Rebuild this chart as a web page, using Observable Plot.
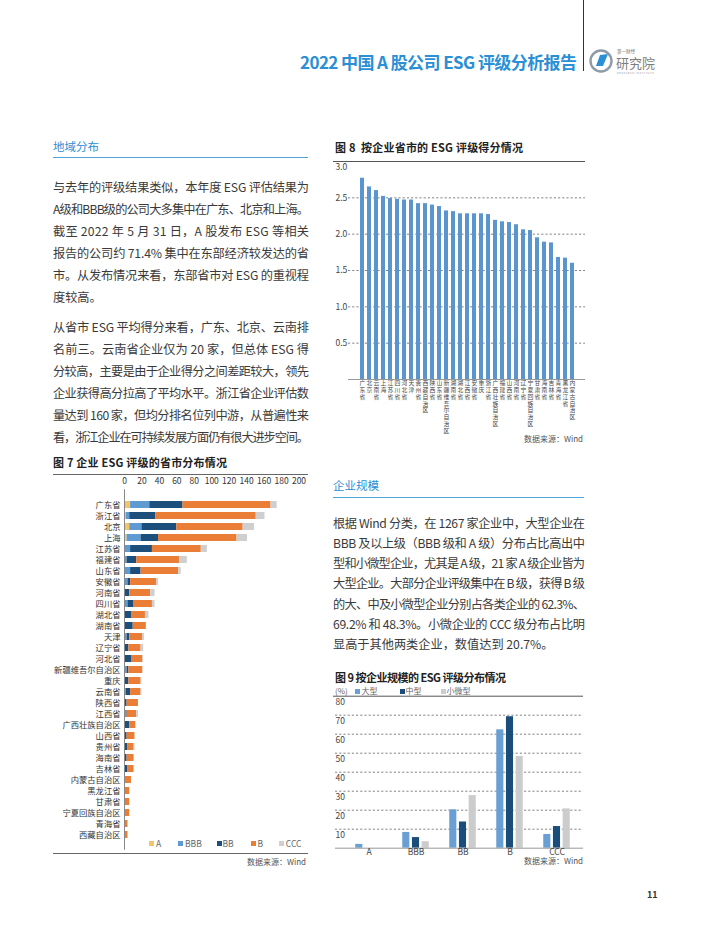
<!DOCTYPE html>
<html><head><meta charset="utf-8">
<script src="https://cdn.jsdelivr.net/npm/d3@7"></script>
<script src="https://cdn.jsdelivr.net/npm/@observablehq/plot@0.6"></script>
<style>
html,body{margin:0;padding:0;background:#fff;}
#page{position:relative;width:710px;height:940px;overflow:hidden;font-family:"Noto Sans CJK SC","Noto Sans",sans-serif;color:#3d3d3d;}
.abs{position:absolute;white-space:nowrap;line-height:1;}
.ln{position:absolute;white-space:nowrap;font-size:12.2px;line-height:1;color:#3a3a3a;}
.sec{position:absolute;color:#2b8dd3;font-size:11.5px;line-height:1;white-space:nowrap;}
.hr{position:absolute;height:0;}
.figt{position:absolute;font-weight:bold;font-size:11px;color:#222;white-space:nowrap;line-height:1;}
.src{position:absolute;font-size:8px;color:#555;white-space:nowrap;line-height:1;}
.leg{position:absolute;font-size:8.5px;color:#666;white-space:nowrap;line-height:1;}
.sw{position:absolute;width:5px;height:5px;}
.chart{position:absolute;}
.chart svg{display:block;overflow:visible;}
</style>
</head>
<body>
<div id="page"></div>
<script>
// ---------- DATA ----------
const provinces7 = ["广东省","浙江省","北京","上海","江苏省","福建省","山东省","安徽省","河南省","四川省","湖北省","湖南省","天津","辽宁省","河北省","新疆维吾尔自治区","重庆","云南省","陕西省","江西省","广西壮族自治区","山西省","贵州省","海南省","吉林省","内蒙古自治区","黑龙江省","甘肃省","宁夏回族自治区","青海省","西藏自治区"];
const countA   = [7,2,6,3,1,1,1,0,0,0,0,0,0,0,0,0,0,0,0,0,0,0,0,0,0,0,0,0,0,0,0];
const countBBB = [22,4,14,16,6,2,6,4,1,4,1,1,3,1,1,3,1,2,1,2,1,1,1,1,0,0,0,0,0,0,0];
const countBB  = [38,30,40,20,25,11,12,3,5,7,7,9,3,4,7,2,4,5,2,1,5,2,3,2,4,1,0,1,1,0,1];
const countB   = [101,115,76,90,56,49,43,30,24,21,16,15,15,14,13,16,14,12,13,11,7,9,7,8,7,7,6,5,5,4,3];
const countCCC = [7,10,13,12,7,9,3,2,5,3,4,0,2,3,1,0,1,1,0,2,0,0,1,0,0,0,0,0,0,0,0];
const grades = ["A","BBB","BB","B","CCC"];
const xTicks7 = [0,20,40,60,80,100,120,140,160,180,200];

const provinces8 = ["广东省","北京","云南省","上海","江苏省","四川省","河北省","天津","贵州省","西藏自治区","陕西省","山东省","新疆维吾尔自治区","湖南省","湖北省","江西省","安徽省","重庆","浙江省","广西壮族自治区","福建省","山西省","河南省","辽宁省","宁夏回族自治区","甘肃省","海南省","吉林省","青海省","黑龙江省","内蒙古自治区"];
const score8 = [2.77,2.65,2.60,2.52,2.49,2.48,2.47,2.47,2.42,2.42,2.40,2.38,2.32,2.31,2.28,2.28,2.28,2.28,2.27,2.19,2.17,2.16,2.13,2.06,2.05,1.95,1.89,1.88,1.68,1.67,1.60];
const yTicks8 = [0.5,1.0,1.5,2.0,2.5];
const yTop8 = 3.0;

const sizes9 = ["大型","中型","小微型"];
const grades9 = ["A","BBB","BB","B","CCC"];
const shareLarge = [2.0,8.3,20.2,62.3,7.2];
const shareMedium = [0,5.6,13.8,69.2,11.4];
const shareSmall = [0,3.4,27.7,48.3,20.7];
const yTicks9 = [10,20,30,40,50,60,70,80];

// ---------- STYLE ----------
const gradeColors = ["#f4c46c","#5f9bd3","#1d4f7c","#ea7e37","#cfcfcf"];
const sizeColors = ["#6a9fd4","#1b4d7a","#cccccc"];
const FONT = '"Noto Sans CJK SC","Noto Sans",sans-serif';
const page = document.getElementById("page");

function add(html, cls, styles) {
  const el = document.createElement("div");
  if (cls) el.className = cls;
  el.innerHTML = html;
  Object.assign(el.style, styles || {});
  page.appendChild(el);
  return el;
}
function fit(el, width) {
  const w = el.getBoundingClientRect().width;
  const n = [...el.textContent].length;
  el.style.letterSpacing = ((width - w) / (n - 1)) + "px";
}

// ---------- HEADER ----------
add("", "hr", {left: "583px", top: "0px", width: "0px", height: "71px", borderLeft: "1.5px solid #333"});
const title = add("2022 中国 A 股公司 ESG 评级分析报告", "abs", {left: "300px", top: "53px", fontSize: "17px", fontWeight: "bold", color: "#2a8fd5"});
fit(title, 277);
add(`<svg width="80" height="34" viewBox="0 0 80 34">
  <circle cx="12" cy="13" r="10.5" fill="none" stroke="#8e9aa6" stroke-width="2.4"/>
  <path d="M7 18 L11 7 L19 6 L14 18 Z" fill="#2a8fd5"/>
  <text x="28" y="4.5" font-size="4.5" fill="#777" font-family='${FONT}'>第一财经</text>
  <text x="27" y="19.5" font-size="13" fill="#7d7d7d" font-family='${FONT}'>研究院</text>
  <text x="28" y="25.5" font-size="2.6" fill="#999" font-family='${FONT}' letter-spacing="0.6">RESEARCH INSTITUTE</text>
</svg>`, "abs", {left: "589px", top: "48px"});

// ---------- TEXT ----------
function placeLines(lines, x, y0, lh, width) {
  lines.forEach((t, i) => {
    const el = add("", "ln", {left: x + "px", top: (y0 + i * lh - 6.3) + "px"});
    el.textContent = t;
    if (i < lines.length - 1 || t.length > 22) fit(el, width);
  });
}
add("地域分布", "sec", {left: "53px", top: "141px"});
add("", "hr", {left: "53px", top: "157px", width: "255px", borderTop: "1.5px solid #4ea3dc"});
placeLines([
  "与去年的评级结果类似，本年度 ESG 评估结果为",
  "A级和BBB级的公司大多集中在广东、北京和上海。",
  "截至 2022 年 5 月 31 日，A 股发布 ESG 等相关",
  "报告的公司约 71.4% 集中在东部经济较发达的省",
  "市。从发布情况来看，东部省市对 ESG 的重视程",
  "度较高。"], 53, 187, 22, 256);
placeLines([
  "从省市 ESG 平均得分来看，广东、北京、云南排",
  "名前三。云南省企业仅为 20 家，但总体 ESG 得",
  "分较高，主要是由于企业得分之间差距较大，领先",
  "企业获得高分拉高了平均水平。浙江省企业评估数",
  "量达到 160 家，但均分排名位列中游，从普遍性来",
  "看，浙江企业在可持续发展方面仍有很大进步空间。"], 53, 327, 22, 256);

add("企业规模", "sec", {left: "333px", top: "480px"});
add("", "hr", {left: "333px", top: "497px", width: "251px", borderTop: "1.5px solid #4ea3dc"});
placeLines([
  "根据 Wind 分类，在 1267 家企业中，大型企业在",
  "BBB 及以上级（BBB 级和 A 级）分布占比高出中",
  "型和小微型企业，尤其是 A 级，21 家 A 级企业皆为",
  "大型企业。大部分企业评级集中在 B 级，获得 B 级",
  "的大、中及小微型企业分别占各类企业的 62.3%、",
  "69.2% 和 48.3%。小微企业的 CCC 级分布占比明",
  "显高于其他两类企业，数值达到 20.7%。"], 333, 523, 20.2, 252);

// ---------- FIGURE 7 ----------
const t7 = add("图 7 企业 ESG 评级的省市分布情况", "figt", {left: "53px", top: "457px"});
fit(t7, 174);
add("", "hr", {left: "53px", top: "474px", width: "255px", borderTop: "1px solid #666"});
const rows7 = grades.flatMap((g, gi) => provinces7.map((p, i) => ({
  province: p, grade: g, value: [countA, countBBB, countBB, countB, countCCC][gi][i]
})));
const fig7 = Plot.plot({
  width: 256, height: 376,
  marginLeft: 72, marginRight: 9.5, marginTop: 15.25, marginBottom: 4.25,
  style: {fontFamily: FONT, background: "transparent", color: "#333"},
  x: {domain: [0, 200], axis: null},
  y: {domain: provinces7, padding: 0.37, label: null},
  color: {domain: grades, range: gradeColors},
  marks: [
    Plot.barX(rows7, {x: "value", y: "province", fill: "grade"}),
    Plot.ruleX([0], {stroke: "#888", strokeWidth: 1, insetTop: -2, insetBottom: -2}),
    Plot.axisY({anchor: "left", tickSize: 0, tickPadding: 4, fontSize: 8.3, fill: "#333", label: null}),
    Plot.text(xTicks7, {x: d => d, text: d => String(d), frameAnchor: "top", lineAnchor: "middle", dy: -10, fontSize: 8.5, fill: "#333"})
  ]
});
const c7 = add("", "chart", {left: "52px", top: "476px"});
c7.appendChild(fig7);
const legX = [[148.5, 156], [177.7, 185], [216.5, 222.5], [251, 257.5], [279.3, 285.8]];
grades.forEach((g, i) => {
  add("", "sw", {left: legX[i][0] + "px", top: "840.5px", background: gradeColors[i]});
  add(g, "leg", {left: legX[i][1] + "px", top: "839px"});
});
add("", "hr", {left: "53px", top: "853px", width: "255px", borderTop: "1px solid #666"});
add("数据来源：Wind", "src", {right: (710 - 306) + "px", top: "858px"});

// ---------- FIGURE 8 ----------
const t8 = add("图 8&nbsp;&nbsp;按企业省市的 ESG 评级得分情况", "figt", {left: "335px", top: "142px"});
fit(t8, 188);
const rows8 = provinces8.map((p, i) => ({province: p, score: score8[i]}));
const maxLen8 = d3.max(provinces8, p => [...p].length);
const charStep8 = 6.9;
const labelMarks8 = d3.range(maxLen8).map(k => Plot.text(
  rows8.filter(d => [...d.province].length > k),
  {x: "province", text: d => [...d.province][k], frameAnchor: "bottom", lineAnchor: "top",
   dy: 1.2 + k * charStep8, fontSize: 5.8, fill: "#444"}
));
const fig8 = Plot.plot({
  width: 260, height: 282,
  marginLeft: 18, marginRight: 5, marginTop: 6, marginBottom: 58,
  style: {fontFamily: FONT, background: "transparent", color: "#444"},
  x: {domain: provinces8, range: [20.2, 253.8], paddingInner: 0.38, paddingOuter: 0.19, axis: null},
  y: {domain: [0, 3], axis: null},
  marks: [
    Plot.ruleY(yTicks8, {stroke: "#666", strokeWidth: 0.8, strokeDasharray: "2.2,2"}),
    Plot.ruleY([yTop8], {stroke: "#555", strokeWidth: 1, insetLeft: -15}),
    Plot.barY(rows8, {x: "province", y: "score", fill: "#5b95cf"}),
    Plot.ruleY([0], {stroke: "#999", strokeWidth: 1}),
    Plot.text(yTicks8, {y: d => d, text: d => d.toFixed(1), frameAnchor: "left", textAnchor: "start", dx: -13, fontSize: 8.5, fill: "#444"}),
    Plot.text([yTop8], {y: d => d, text: d => d.toFixed(1), frameAnchor: "left", textAnchor: "start", dx: -13, dy: 6, fontSize: 8.5, fill: "#444"}),
    ...labelMarks8
  ]
});
const c8 = add("", "chart", {left: "330px", top: "155px"});
c8.appendChild(fig8);
add("数据来源：Wind", "src", {right: (710 - 583) + "px", top: "435px"});

// ---------- FIGURE 9 ----------
const t9 = add("图 9 按企业规模的 ESG 评级分布情况", "figt", {left: "335px", top: "672px"});
fit(t9, 171);
add("(%)", "leg", {left: "335px", top: "687px", fontSize: "8px"});
const legX9 = [[355, 361.5], [400, 405.5], [441, 446.5]];
sizes9.forEach((s, i) => {
  add("", "sw", {left: legX9[i][0] + "px", top: "688.5px", background: sizeColors[i]});
  add(s, "leg", {left: legX9[i][1] + "px", top: "687px", fontSize: "8px"});
});
const rows9 = sizes9.flatMap((s, si) => grades9.map((g, gi) => ({
  size: s, grade: g, share: [shareLarge, shareMedium, shareSmall][si][gi]
})));
const band9 = (251 - 14) / grades9.length;
const barW9 = 7.5, step9 = 9.7;
const fig9 = Plot.plot({
  width: 258, height: 172,
  marginLeft: 5, marginRight: 5, marginTop: 2.7, marginBottom: 17.3,
  style: {fontFamily: FONT, background: "transparent", color: "#444"},
  x: {domain: grades9, range: [14, 251], padding: 0, axis: null},
  y: {domain: [0, 80], axis: null},
  marks: [
    Plot.ruleY(yTicks9.filter(d => d < 80), {stroke: "#666", strokeWidth: 0.8, strokeDasharray: "2.2,2"}),
    Plot.ruleY([80], {stroke: "#555", strokeWidth: 1, insetLeft: -2}),
    ...sizes9.map((s, si) => Plot.barY(rows9.filter(d => d.size === s), {
      x: "grade", y: "share", fill: sizeColors[si],
      dx: (si - 1) * step9, insetLeft: (band9 - barW9) / 2, insetRight: (band9 - barW9) / 2
    })),
    Plot.ruleY([0], {stroke: "#999", strokeWidth: 1}),
    Plot.text(yTicks9, {y: d => d, text: d => String(d), frameAnchor: "left", textAnchor: "start", dy: 6, fontSize: 8.5, fill: "#444"}),
    Plot.text(grades9, {x: d => d, text: d => d, frameAnchor: "bottom", lineAnchor: "top", dy: 1, fontSize: 8.5, fill: "#444"})
  ]
});
const c9 = add("", "chart", {left: "330px", top: "693px"});
c9.appendChild(fig9);
add("数据来源：Wind", "src", {right: (710 - 583) + "px", top: "857px"});

add("11", "abs", {left: "647px", top: "890px", fontSize: "9px", fontWeight: "bold", color: "#333"});
</script>
</body></html>
